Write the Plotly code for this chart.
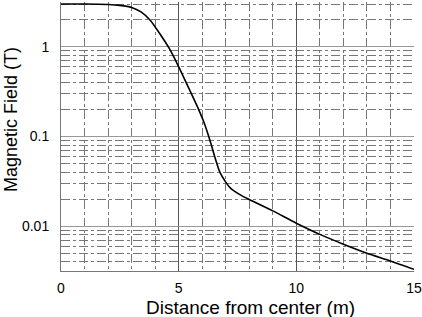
import plotly.graph_objects as go

# Data
distance_m = [0, 1, 2, 2.5, 3.0, 3.4, 3.8, 4.2, 4.6, 4.9, 5.5, 5.8, 6.1, 6.35, 6.55,
              6.75, 7.0, 7.2, 7.6, 8.0, 9.0, 10, 11, 12, 13, 14, 15]
field_T = [3.0, 3.0, 2.96, 2.9, 2.75, 2.45, 1.97, 1.40, 0.96, 0.68, 0.316, 0.214,
           0.138, 0.087, 0.0575, 0.040, 0.031, 0.0266, 0.0225, 0.0198, 0.0148,
           0.0108, 0.0081, 0.0063, 0.0050, 0.0041, 0.0033]

x_tickvals = [0, 5, 10, 15]
x_minor_vals = [1, 2, 3, 4, 6, 7, 8, 9, 11, 12, 13, 14]
y_tickvals = [0.01, 0.1, 1]
y_ticktext = ["0.01", "0.1", "1"]
y_minor_vals = [m * d for d in (0.001, 0.01, 0.1, 1) for m in range(2, 10)]
x_title = "Distance from center (m)"
y_title = "Magnetic Field (T)"

fig = go.Figure()
fig.add_trace(go.Scatter(x=distance_m, y=field_T, mode="lines",
                         line=dict(color="black", width=1.6, shape="spline",
                                   smoothing=0.6),
                         showlegend=False, hoverinfo="skip"))

font = "Liberation Sans, Arial, sans-serif"
fig.update_layout(
    width=422, height=317,
    margin=dict(l=61, r=8, t=2, b=46),
    plot_bgcolor="white", paper_bgcolor="white",
    font=dict(family=font, color="black", size=14),
)
fig.update_xaxes(
    range=[0, 15], tickvals=x_tickvals, ticks="", ticklabelstandoff=4,
    automargin=False,
    showgrid=True, gridcolor="#555555", gridwidth=1,
    minor=dict(tickvals=x_minor_vals, showgrid=True, gridcolor="#777777",
               griddash="dashdot", gridwidth=1),
    showline=True, linecolor="#777777", linewidth=1,
    zeroline=False,
    tickfont=dict(size=14),
)
fig.update_yaxes(
    type="log", range=[-2.5, 0.5], tickvals=y_tickvals, ticktext=y_ticktext,
    ticks="", ticklabelstandoff=8, automargin=False,
    showgrid=True, gridcolor="#999999", gridwidth=1,
    minor=dict(tickvals=y_minor_vals, showgrid=True, gridcolor="#777777",
               griddash="dashdot", gridwidth=1),
    showline=True, linecolor="#777777", linewidth=1,
    zeroline=False,
    tickfont=dict(size=14),
)
fig.add_annotation(text=x_title, xref="paper", yref="paper",
                   x=(250 - 61) / 353, y=-36 / 269, xanchor="center",
                   yanchor="middle", showarrow=False, font=dict(size=19))
fig.add_annotation(text=y_title, xref="paper", yref="paper", textangle=-90,
                   x=-50 / 353, y=(271 - 120) / 269, xanchor="center",
                   yanchor="middle", showarrow=False, font=dict(size=18))

fig.write_html("out.html", config={"displayModeBar": False},
               post_script="document.body.style.margin='0';")
